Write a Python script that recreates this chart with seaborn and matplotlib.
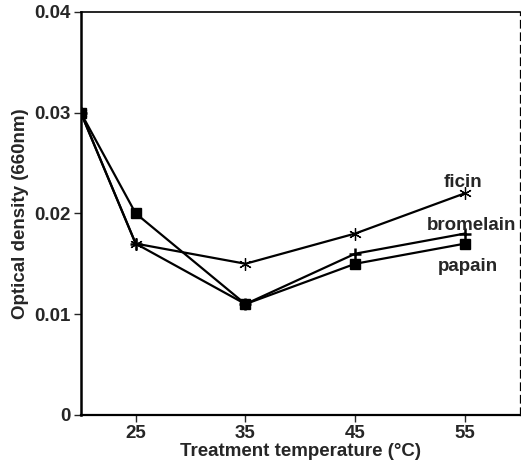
import numpy as np
import matplotlib
matplotlib.use("Agg")
import matplotlib.pyplot as plt
import pandas as pd
import seaborn as sns

# values
temps = [20, 25, 35, 45, 55]
ficin = [0.030, 0.017, 0.015, 0.018, 0.022]
bromelain = [0.030, 0.017, 0.011, 0.016, 0.018]
papain = [0.030, 0.020, 0.011, 0.015, 0.017]
enzymes = ["ficin", "bromelain", "papain"]
x_ticks = [25, 35, 45, 55]
y_ticks = [0, 0.01, 0.02, 0.03, 0.04]
y_tick_labels = ["0", "0.01", "0.02", "0.03", "0.04"]

# long form table for seaborn
df = pd.DataFrame({
    "temp": temps * 3,
    "od": ficin + bromelain + papain,
    "enzyme": np.repeat(enzymes, len(temps)),
})

sns.set_style("white")
plt.rcParams["font.family"] = ["Liberation Sans", "DejaVu Sans"]
plt.rcParams["font.weight"] = "bold"

fig = plt.figure(figsize=(5.21, 4.71), dpi=100)
ax = fig.add_axes([0.155, 0.119, 0.843, 0.856])

sns.lineplot(data=df, x="temp", y="od", hue="enzyme", style="enzyme",
             palette={e: "black" for e in enzymes},
             markers={"ficin": "X", "bromelain": "P", "papain": "s"},
             dashes=False, linewidth=1.6, markersize=8,
             legend=False, ax=ax)

# asterisk / plus / filled square like the printed ones
marker_style = {"ficin": ((6, 2, 0), 9, 0.9), "bromelain": ("+", 9, 1.8), "papain": ("s", 7.5, 1.0)}
for line, name in zip(ax.lines, enzymes):
    m, size, mew = marker_style[name]
    line.set_marker(m)
    line.set_markersize(size)
    line.set_markeredgewidth(mew)
    line.set_markeredgecolor("black")
    line.set_markerfacecolor("black")

# curve labels
ax.text(54.8, 0.0231, "ficin", ha="center", va="center", fontsize=13.5, fontweight="bold")
ax.text(55.6, 0.0188, "bromelain", ha="center", va="center", fontsize=13.5, fontweight="bold")
ax.text(55.3, 0.0147, "papain", ha="center", va="center", fontsize=13.5, fontweight="bold")

ax.set_xlim(20, 60)
ax.set_ylim(0, 0.04)
ax.set_xticks(x_ticks)
ax.set_yticks(y_ticks)
ax.set_yticklabels(y_tick_labels)
ax.tick_params(axis="both", direction="out", length=5, width=1.0, labelsize=13.5, pad=2,
               bottom=True, left=True)
for lab in ax.get_xticklabels() + ax.get_yticklabels():
    lab.set_fontweight("bold")

ax.set_xlabel("Treatment temperature (°C)", fontsize=13.5, fontweight="bold", labelpad=1)
ax.set_ylabel("Optical density (660nm)", fontsize=13.5, fontweight="bold", labelpad=4)

ax.spines["left"].set_linewidth(1.8)
ax.spines["bottom"].set_linewidth(1.6)
ax.spines["top"].set_linewidth(1.2)
ax.spines["right"].set_linewidth(0.9)
ax.spines["right"].set_linestyle((0, (6, 4)))
for s in ax.spines.values():
    s.set_color("black")

fig.savefig("out.png", dpi=100)
